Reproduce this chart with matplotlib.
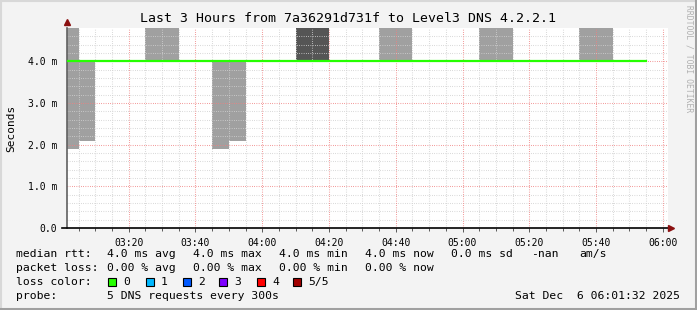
import matplotlib
matplotlib.use("Agg")
import matplotlib.pyplot as plt
from matplotlib.lines import Line2D
from matplotlib.patches import Rectangle

# Data (times HH:MM[:SS], values in ms)
t_start = "03:01:32"
t_end = "06:01:32"
smoke_from = ["03:01:32", "03:05", "03:25", "03:45", "03:50", "04:10", "04:35", "05:05", "05:35"]
smoke_to = ["03:05", "03:10", "03:35", "03:50", "03:55", "04:20", "04:45", "05:15", "05:45"]
smoke_lo = [1.9, 2.1, 4.0, 1.9, 2.1, 4.0, 4.0, 4.0, 4.0]
smoke_hi = [5.0, 4.0, 5.0, 4.0, 4.0, 5.0, 5.0, 5.0, 5.0]
smoke_col = ["#a0a0a0", "#a0a0a0", "#a0a0a0", "#a0a0a0", "#a0a0a0", "#555555", "#a0a0a0", "#a0a0a0", "#a0a0a0"]
median_times = ["03:01:32", "05:55"]
median_ms = [4.0, 4.0]
x_ticks = ["03:20", "03:40", "04:00", "04:20", "04:40", "05:00", "05:20", "05:40", "06:00"]
y_ticks = [0.0, 1.0, 2.0, 3.0, 4.0]
y_labels = ["0.0", "1.0 m", "2.0 m", "3.0 m", "4.0 m"]
loss_names = ["0", "1", "2", "3", "4", "5/5"]
loss_colors = ["#26ff00", "#00b8ff", "#0059ff", "#7e00ff", "#ff0000", "#a10000"]


def minutes(s):
    p = [int(v) for v in s.split(":")]
    return p[0] * 60 + p[1] + (p[2] / 60 if len(p) > 2 else 0)


W, H = 697, 310
mono = "DejaVu Sans Mono"
fig = plt.figure(figsize=(W / 100, H / 100), dpi=100, facecolor="#f3f3f3")

# frame of the canvas
fig.add_artist(Line2D([0, 1], [1 - 1 / H, 1 - 1 / H], color="#d8d8d8", lw=1.5))
fig.add_artist(Line2D([1 / W, 1 / W], [0, 1], color="#d8d8d8", lw=1.5))
fig.add_artist(Line2D([0, 1], [1.5 / H, 1.5 / H], color="#a0a0a0", lw=2.2))
fig.add_artist(Line2D([1 - 1.5 / W, 1 - 1.5 / W], [0, 1], color="#a0a0a0", lw=2.2))

left, right, top, bottom = 67, 668, 28, 228
ax = fig.add_axes([left / W, (H - bottom) / H, (right - left) / W, (bottom - top) / H])
ax.set_facecolor("white")
ax.set_xlim(minutes(t_start), minutes(t_end))
ax.set_ylim(0, 4.8)

# smoke
x0 = [minutes(s) for s in smoke_from]
w = [minutes(e) - minutes(s) for s, e in zip(smoke_from, smoke_to)]
ax.bar(x0, [h - l for h, l in zip(smoke_hi, smoke_lo)], bottom=smoke_lo, width=w,
       align="edge", color=smoke_col, linewidth=0, zorder=1)

# grid
xmaj = [minutes(s) for s in x_ticks]
xmin_ = [m for m in range(185, 362, 5) if m % 20]
dots = (0, (0.72, 1.44))
for m in xmin_:
    ax.axvline(m, color="#d0d0d0", lw=0.75, ls=dots, zorder=2)
for k in range(1, 24):
    if k % 5:
        ax.axhline(k * 0.2, color="#d0d0d0", lw=0.75, ls=dots, zorder=2)
for m in xmaj:
    ax.axvline(m, color="#f08080", lw=0.75, ls=dots, zorder=2)
for v in y_ticks[1:]:
    ax.axhline(v, color="#f08080", lw=0.75, ls=dots, zorder=2)

# median rtt
ax.step([minutes(s) for s in median_times], median_ms, where="post",
        color=loss_colors[0], lw=1.6, zorder=3)

for s in ["top", "right"]:
    ax.spines[s].set_visible(False)
ax.spines["left"].set_color("#606060")
ax.spines["left"].set_linewidth(1.2)
ax.spines["bottom"].set_visible(False)
ax.plot([-5 / (right - left), 1.005], [0, 0], transform=ax.transAxes, color="black",
        lw=1.2, clip_on=False, zorder=4)
ax.plot([1.005], [0], marker=">", ms=5, color="#8b1010", transform=ax.transAxes,
        clip_on=False, zorder=5)
ax.plot([0], [1.03], marker="^", ms=5, color="#8b1010", transform=ax.transAxes,
        clip_on=False, zorder=5)

ax.set_xticks(xmaj)
ax.set_xticklabels(x_ticks, fontfamily=mono, fontsize=7)
ax.set_xticks(xmin_, minor=True)
ax.set_yticks(y_ticks)
ax.set_yticklabels(y_labels, fontfamily=mono, fontsize=7)
ax.tick_params(axis="x", which="major", length=3, width=0.6, pad=4, color="#404040")
ax.tick_params(axis="x", which="minor", length=2, width=0.6, color="#404040")
ax.tick_params(axis="y", length=0, pad=7)

fig.text(348 / W, 1 - 19 / H, "Last 3 Hours from 7a36291d731f to Level3 DNS 4.2.2.1",
         ha="center", va="center", fontfamily=mono, fontsize=9.5)
fig.text(11 / W, 1 - 128 / H, "Seconds", rotation=90, ha="center", va="center",
         fontfamily=mono, fontsize=8)
fig.text(689 / W, 1 - 5 / H, "RRDTOOL / TOBI OETIKER", rotation=-90, ha="center", va="top",
         fontfamily=mono, fontsize=5.8, color="#b0b0b0")

# legend
def row(y, items):
    for x, s in items:
        fig.text(x / W, 1 - y / H, s, ha="left", va="center", fontfamily=mono, fontsize=8.2)

row(254, [(16, "median rtt:"), (107, "4.0 ms avg"), (193, "4.0 ms max"), (279, "4.0 ms min"),
          (365, "4.0 ms now"), (451, "0.0 ms sd"), (531, "-nan"), (579, "am/s")])
row(268, [(16, "packet loss:"), (107, "0.00 % avg"), (193, "0.00 % max"), (279, "0.00 % min"),
          (365, "0.00 % now")])
row(282, [(16, "loss color:")])
box_x = [108, 146, 183, 219, 257, 293]
for bx, name, col in zip(box_x, loss_names, loss_colors):
    fig.add_artist(Rectangle((bx / W, 1 - 286 / H), 8 / W, 8 / H, facecolor=col,
                             edgecolor="black", lw=0.8))
    fig.text((bx + 15) / W, 1 - 282 / H, name, ha="left", va="center", fontfamily=mono,
             fontsize=8.2)
row(296, [(16, "probe:"), (107, "5 DNS requests every 300s")])
fig.text(680 / W, 1 - 296 / H, "Sat Dec  6 06:01:32 2025", ha="right", va="center",
         fontfamily=mono, fontsize=8.2)

fig.savefig("out.png", dpi=100, facecolor=fig.get_facecolor())
